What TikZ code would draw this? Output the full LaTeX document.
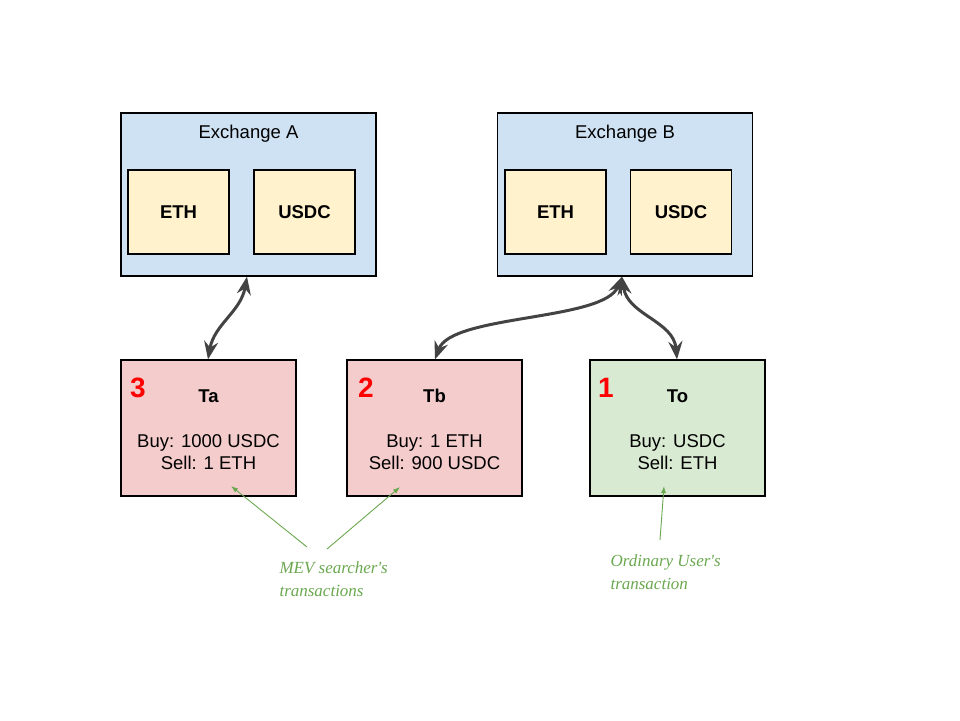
\documentclass[tikz,border=0pt]{standalone}
\usepackage{fontspec}
\setmainfont{Liberation Sans}
\newfontfamily\handfont{Liberation Serif}
\usetikzlibrary{arrows.meta}
\definecolor{exblue}{HTML}{CFE2F3}
\definecolor{coinyellow}{HTML}{FFF2CC}
\definecolor{mevred}{HTML}{F4CCCC}
\definecolor{usergreen}{HTML}{D9EAD3}
\definecolor{arrowgray}{HTML}{434343}
\definecolor{notegreen}{HTML}{6AA84F}
\tikzset{
    exbox/.style={draw=black, line width=1.2pt, fill=exblue,
        minimum width=255pt, minimum height=163pt},
    coinbox/.style={draw=black, line width=1.2pt, fill=coinyellow,
        minimum width=101pt, minimum height=84pt,
        font=\fontsize{18.5}{22}\selectfont\bfseries},
    txbox/.style={draw=black, line width=1.2pt,
        minimum width=175pt, minimum height=136pt},
    bigarrow/.style={arrowgray, line width=3pt,
        {Stealth[length=18pt, width=14pt, inset=6pt]}-{Stealth[length=18pt, width=14pt, inset=6pt]}},
    notearrow/.style={notegreen, line width=0.9pt, -{Latex[length=7pt, width=5pt]}},
    notetext/.style={notegreen, anchor=west,
        font=\fontsize{17}{20}\selectfont\handfont\itshape}
}

\begin{document}
\begin{tikzpicture}[x=1pt, y=-1pt]
    \useasboundingbox (0,0) rectangle (960,720);

    % Exchange A
    \node[exbox] (exa) at (248.5,194.5) {};
    \node[font=\fontsize{18.5}{22}\selectfont] (exatitle) at (248.5,134) {Exchange A};
    \node[coinbox] (etha) at (178.5,212) {ETH};
    \node[coinbox] (usdca) at (304.5,212) {USDC};

    % Exchange B
    \node[exbox] (exb) at (625,194.5) {};
    \node[font=\fontsize{18.5}{22}\selectfont] (exbtitle) at (625,134) {Exchange B};
    \node[coinbox] (ethb) at (555.5,212) {ETH};
    \node[coinbox] (usdcb) at (681,212) {USDC};

    % Transactions
    \node[txbox, fill=mevred] (ta) at (208.5,428) {};
    \node[txbox, fill=mevred] (tb) at (434.5,428) {};
    \node[txbox, fill=usergreen] (to) at (677.5,428) {};

    \node[red, font=\fontsize{28}{30}\selectfont\bfseries] (numa) at (138,388) {3};
    \node[red, font=\fontsize{28}{30}\selectfont\bfseries] (numb) at (366,388) {2};
    \node[red, font=\fontsize{28}{30}\selectfont\bfseries] (numo) at (606,388) {1};

    \node[font=\fontsize{18.5}{22}\selectfont\bfseries] (taname) at (208.5,396) {Ta};
    \node[font=\fontsize{18.5}{22}\selectfont\bfseries] (tbname) at (434.5,396) {Tb};
    \node[font=\fontsize{18.5}{22}\selectfont\bfseries] (toname) at (677.5,396) {To};

    \node[align=center, font=\fontsize{18.5}{22}\selectfont] (tatext) at (208.5,452)
        {Buy: 1000 USDC\\Sell: 1 ETH};
    \node[align=center, font=\fontsize{18.5}{22}\selectfont] (tbtext) at (434.5,452)
        {Buy: 1 ETH\\Sell: 900 USDC};
    \node[align=center, font=\fontsize{18.5}{22}\selectfont] (totext) at (677.5,452)
        {Buy: USDC\\Sell: ETH};

    % Fleches vers les echanges
    \draw[bigarrow] (exa.south -| 247,0) to [out=-100, in=80] (ta.north -| 208,0);
    \draw[bigarrow] (exb.south -| 622,0) to [out=-112, in=70, looseness=0.6] (tb.north -| 435,0);
    \draw[bigarrow] (exb.south -| 622,0) to [out=-82, in=95] (to.north -| 677,0);

    % Annotations
    \node[notetext] (mevnote) at (276,568) {MEV searcher's};
    \node[notetext] (mevnote2) at (276,591) {transactions};
    \node[notetext] (usernote) at (607,562) {Ordinary User's};
    \node[notetext] (usernote2) at (607,584) {transaction};

    \coordinate (mevfroma) at (307,547);
    \coordinate (mevfromb) at (327,549);
    \coordinate (userfrom) at (660,540);
    \draw[notearrow] (mevfroma) -- (231,486);
    \draw[notearrow] (mevfromb) -- (400,487);
    \draw[notearrow] (userfrom) -- (664,486);

\end{tikzpicture}
\end{document}
